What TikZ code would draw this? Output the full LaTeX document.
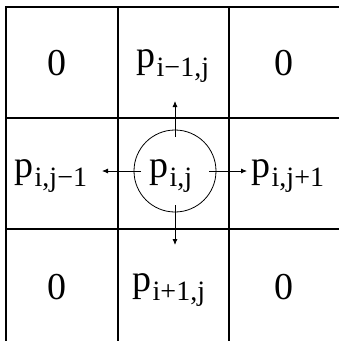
\documentclass[tikz,border=0pt]{standalone}
\usepackage{fontspec}
\setmainfont{Liberation Serif}
\newfontfamily\tms{Liberation Serif}
\usetikzlibrary{arrows.meta}
% p with an upright, lowered index
\newcommand{\pidx}[1]{p\kern1.5pt\raisebox{-9pt}{\fontsize{28}{28}\selectfont #1}}

\begin{document}
\begin{tikzpicture}[x=1pt, y=-1pt,
  gridline/.style={line width=1.1pt},
  lbl/.style={inner sep=0pt, font=\tms\fontsize{38}{40}\selectfont},
  ring/.style={circle, draw, line width=0.8pt, minimum size=82pt, inner sep=0pt},
  flow/.style={line width=0.8pt, -{Latex[length=6pt, width=5pt]}, shorten <=34pt}
]
  \useasboundingbox (0,0) rectangle (339,341);

  % Raster 3x3
  \draw[gridline] (6,7) rectangle (342,343);
  \foreach \c in {118,229} {
    \draw[gridline] (\c,7) -- (\c,343);
    \draw[gridline] (6,\c) -- (342,\c);
  }

  % Rohy
  \node[lbl, anchor=base] (z1) at (57,75) {0};
  \node[lbl, anchor=base] (z2) at (284,75) {0};
  \node[lbl, anchor=base] (z3) at (57,299) {0};
  \node[lbl, anchor=base] (z4) at (284,299) {0};

  % Sousedi
  \node[lbl, anchor=base west] (up) at (136,67) {\pidx{i−1,j}};
  \node[lbl, anchor=base west] (left) at (14,177) {\pidx{i,j−1}};
  \node[lbl, anchor=base west] (right) at (251,177) {\pidx{i,j+1}};
  \node[lbl, anchor=base west] (down) at (132,291) {\pidx{i+1,j}};

  % Stred
  \node[ring] (c) at (175,171) {};
  \node[lbl, anchor=base west] (pij) at (149,177) {\pidx{i,j}};

  \coordinate (tu) at (175,101);
  \coordinate (td) at (175,245);
  \coordinate (tl) at (102,171);
  \coordinate (tr) at (247,171);
  \draw[flow] (c.center) -- (tu);
  \draw[flow] (c.center) -- (td);
  \draw[flow] (c.center) -- (tl);
  \draw[flow] (c.center) -- (tr);
\end{tikzpicture}
\end{document}
